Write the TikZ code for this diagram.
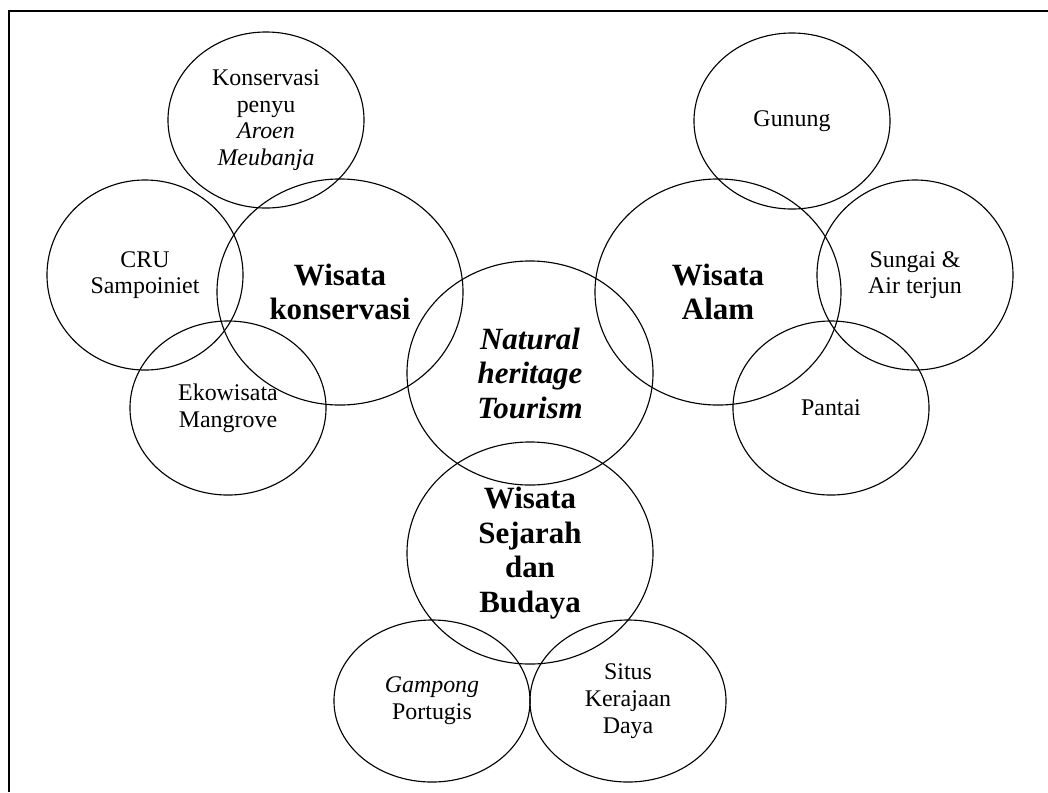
\documentclass[tikz,border=0pt]{standalone}
\usepackage{fontspec}
\setmainfont{Liberation Serif}
\usetikzlibrary{shapes.geometric}

\begin{document}
\begin{tikzpicture}[x=0.025cm, y=-0.025cm,
  smallring/.style={draw, ellipse, line width=0.8pt, inner sep=0pt,
    minimum width=4.9cm, minimum height=4.4cm, align=center,
    font=\fontsize{17}{19}\selectfont},
  bigring/.style={draw, ellipse, line width=0.8pt, inner sep=0pt,
    minimum width=6.15cm, minimum height=5.6cm, align=center,
    font=\fontsize{22}{24.5}\selectfont\bfseries}]

\useasboundingbox (0,0) rectangle (1048,792);

% frame (only top and left edge are visible)
\draw[line width=1pt] (9,792) -- (9,11) -- (1048,11);

% ===== centre =====
\node[bigring, font=\fontsize{22}{24.5}\selectfont\bfseries\itshape] (nht) at (530,373)
  {Natural\\heritage\\Tourism};

% ===== Wisata konservasi and its sites =====
\node[bigring, minimum height=5.65cm] (konservasi) at (340,292) {Wisata\\konservasi};
\node[smallring] (penyu) at (266,120)
  {Konservasi\\penyu\\\textit{Aroen}\\\textit{Meubanja}};
\node[smallring, minimum height=4.75cm] (cru) at (145,275) {CRU\\Sampoiniet};
\node[smallring, minimum height=4.35cm] (mangrove) at (228,408) {Ekowisata\\Mangrove};

% ===== Wisata Alam and its sites =====
\node[bigring, minimum height=5.65cm] (alam) at (718,292) {Wisata\\Alam};
\node[smallring] (gunung) at (792,121) {Gunung};
\node[smallring, minimum height=4.75cm] (sungai) at (915,275) {Sungai \&\\Air terjun};
\node[smallring, minimum height=4.35cm] (pantai) at (831,408) {Pantai};

% ===== Wisata Sejarah dan Budaya and its sites =====
\node[bigring, minimum height=5.55cm] (sejarah) at (530,553) {Wisata\\Sejarah\\dan\\Budaya};
\node[smallring, minimum height=4.05cm] (gampong) at (432,701) {\textit{Gampong}\\Portugis};
\node[smallring, minimum height=4.05cm] (situs) at (628,701) {Situs\\Kerajaan\\Daya};

\end{tikzpicture}
\end{document}
